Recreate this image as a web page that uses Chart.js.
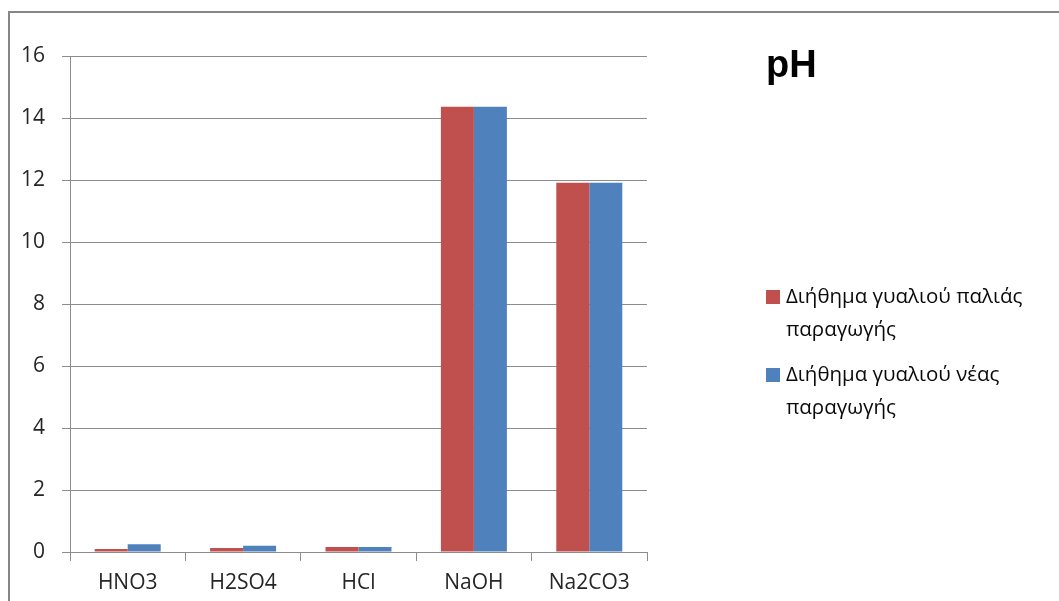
<!DOCTYPE html>
<html>
<head>
<meta charset="utf-8">
<script src="https://cdn.jsdelivr.net/npm/chart.js@4.4.1/dist/chart.umd.min.js"></script>
<style>
  html, body { margin: 0; padding: 0; background: #ffffff; }
  #wrap { position: relative; width: 1059px; height: 601px; }
</style>
</head>
<body>
<div id="wrap"><canvas id="c" width="1059" height="601"></canvas></div>
<script>
const categories = ['HNO3', 'H2SO4', 'HCl', 'NaOH', 'Na2CO3'];
const oldGlass = [0.10, 0.13, 0.16, 14.36, 11.91];
const newGlass = [0.25, 0.20, 0.16, 14.36, 11.91];
const seriesNames = ['Διήθημα γυαλιού παλιάς παραγωγής', 'Διήθημα γυαλιού νέας παραγωγής'];
const chartTitle = 'pH';
const yTicks = { min: 0, max: 16, step: 2 };

const FONT = "'Open Sans', 'DejaVu Sans', sans-serif";

const framePlugin = {
  id: 'frame',
  beforeDraw(chart) {
    const ctx = chart.ctx;
    ctx.save();
    ctx.fillStyle = '#ffffff';
    ctx.fillRect(0, 0, chart.width, chart.height);
    ctx.strokeStyle = '#868686';
    ctx.lineWidth = 2;
    ctx.strokeRect(9, 12, chart.width + 20, chart.height + 20);
    ctx.restore();
  }
};

function wrapText(ctx, text, maxW) {
  const words = text.split(' ');
  const lines = [];
  let cur = '';
  for (const w of words) {
    const t = cur ? cur + ' ' + w : w;
    if (ctx.measureText(t).width > maxW && cur) { lines.push(cur); cur = w; }
    else cur = t;
  }
  if (cur) lines.push(cur);
  return lines;
}

const sideTextPlugin = {
  id: 'sideText',
  afterDraw(chart) {
    const ctx = chart.ctx;
    ctx.save();
    // title
    ctx.fillStyle = '#000000';
    ctx.font = "bold 38px 'Liberation Sans', Arial, sans-serif";
    ctx.textBaseline = 'alphabetic';
    ctx.textAlign = 'left';
    ctx.fillText(chartTitle, 766, 77);
    // legend
    ctx.font = '20.5px ' + FONT;
    ctx.textBaseline = 'middle';
    let y = 297;
    chart.data.datasets.forEach((ds) => {
      ctx.fillStyle = ds.backgroundColor;
      ctx.fillRect(766, y - 7, 14, 14);
      ctx.fillStyle = '#0a0a0a';
      const lines = wrapText(ctx, ds.label, 262);
      lines.forEach((ln, i) => {
        ctx.fillText(ln, 786, y + i * 33);
      });
      y += lines.length * 33 + 12;
    });
    ctx.restore();
  }
};

new Chart(document.getElementById('c'), {
  type: 'bar',
  data: {
    labels: categories,
    datasets: [
      { label: seriesNames[0], data: oldGlass, backgroundColor: '#C0504D', borderWidth: 0 },
      { label: seriesNames[1], data: newGlass, backgroundColor: '#4F81BD', borderWidth: 0 }
    ]
  },
  options: {
    responsive: false,
    animation: false,
    layout: { padding: { top: 56, right: 412, bottom: 0, left: 0 } },
    plugins: {
      legend: { display: false },
      title: { display: false },
      tooltip: { enabled: false }
    },
    datasets: { bar: { categoryPercentage: 0.572, barPercentage: 1.0 } },
    scales: {
      x: {
        afterFit(scale) { scale.height = 49; },
        grid: { display: true, drawOnChartArea: false, drawTicks: true, tickLength: 9, color: '#8c8c8c', offset: true },
        border: { display: true, color: '#8c8c8c', width: 1 },
        ticks: { color: '#262626', font: { family: FONT, size: 21 }, padding: 9 }
      },
      y: {
        min: yTicks.min,
        max: yTicks.max,
        afterFit(scale) { scale.width = 70; },
        grid: { color: '#8c8c8c', lineWidth: 1, drawTicks: true, tickLength: 8 },
        border: { display: true, color: '#8c8c8c', width: 1 },
        ticks: { stepSize: yTicks.step, color: '#262626', font: { family: FONT, size: 21 }, padding: 17 }
      }
    }
  },
  plugins: [framePlugin, sideTextPlugin]
});
</script>
</body>
</html>
